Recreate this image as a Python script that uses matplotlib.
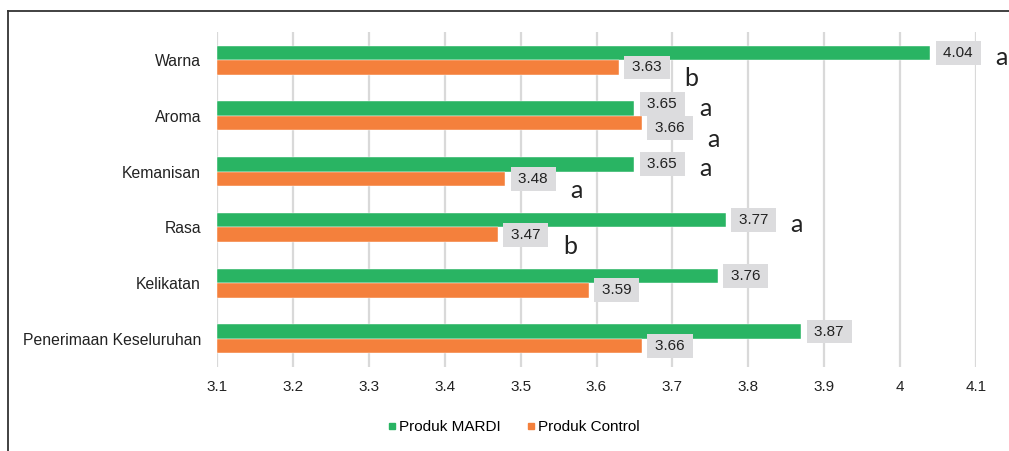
import matplotlib
matplotlib.use("Agg")
import matplotlib.pyplot as plt
from matplotlib.lines import Line2D
import numpy as np

categories = ["Warna", "Aroma", "Kemanisan", "Rasa", "Kelikatan", "Penerimaan Keseluruhan"]
mardi = [4.04, 3.65, 3.65, 3.77, 3.76, 3.87]
control = [3.63, 3.66, 3.48, 3.47, 3.59, 3.66]
mardi_sig = ["a", "a", "a", "a", "", ""]
control_sig = ["b", "a", "a", "b", "", ""]
xticks = [3.1, 3.2, 3.3, 3.4, 3.5, 3.6, 3.7, 3.8, 3.9, 4.0, 4.1]
xticklabels = ["3.1", "3.2", "3.3", "3.4", "3.5", "3.6", "3.7", "3.8", "3.9", "4", "4.1"]

GREEN = "#29B463"
ORANGE = "#F4803C"
BOXC = "#DCDCDE"
TXT = "#222222"
PT = 72 / 100  # points per pixel at dpi 100
SANS = ["Liberation Sans", "DejaVu Sans"]

fig = plt.figure(figsize=(10.09, 4.51), dpi=100)
ax = fig.add_axes([217/1009, 1-366.7/451, (976-217)/1009, (366.7-32.3)/451])

y = np.arange(len(categories))
h = 0.26
ax.barh(y - h/2, [v - 3.1 for v in mardi], left=3.1, height=h, color=GREEN,
        edgecolor="white", linewidth=0.3, zorder=3)
ax.barh(y + h/2, [v - 3.1 for v in control], left=3.1, height=h, color=ORANGE,
        edgecolor="white", linewidth=0.3, zorder=3)

ax.set_xlim(3.1, 4.1)
ax.set_ylim(5.5, -0.5)
ax.set_xticks(xticks)
ax.set_xticklabels(xticklabels, fontsize=11, color=TXT, family=SANS)
ax.set_yticks(y)
ax.set_yticklabels(categories, fontsize=11.3, color=TXT, family=SANS)
ax.tick_params(length=0)
ax.tick_params(axis="y", pad=16 * PT)
ax.tick_params(axis="x", pad=13 * PT)
for s in ax.spines.values():
    s.set_visible(False)
ax.grid(axis="x", color="#d9d9d9", linewidth=1.6, zorder=0)
ax.set_axisbelow(True)

def label(vals, other, sigs, offs, sign, sig_dy):
    for i, (v, o, s) in enumerate(zip(vals, other, sigs)):
        yy = i + offs
        # nudge labels apart when the two boxes of one category would overlap
        dy = sign * 4.5 if abs(v - o) < 0.05 else 0.0
        ax.annotate(f"\u2009{v:.2f}\u2009", xy=(v, yy), xytext=(10 * PT, -dy * PT),
                    textcoords="offset points", ha="left", va="center",
                    fontsize=11, color=TXT, family=SANS, zorder=5,
                    annotation_clip=False,
                    bbox=dict(boxstyle="square,pad=0.32", fc=BOXC, ec="none"))
        if s:
            ax.annotate(s, xy=(v, yy), xytext=(65 * PT, -(sig_dy + dy) * PT),
                        textcoords="offset points", ha="left", va="baseline",
                        fontsize=18, color=TXT, family="Lato", zorder=5,
                        annotation_clip=False)

label(mardi, control, mardi_sig, -h/2, -1, 12)
label(control, mardi, control_sig, h/2, 1, 19)

handles = [Line2D([], [], marker="s", linestyle="none", color=GREEN, markersize=5),
           Line2D([], [], marker="s", linestyle="none", color=ORANGE, markersize=5)]
fig.legend(handles, ["Produk MARDI", "Produk Control"], loc="center",
           bbox_to_anchor=(513/1009, 1-427/451), ncol=2, frameon=False,
           prop=dict(family=SANS, size=11), handletextpad=0.1,
           columnspacing=1.6, handlelength=0.7)

# outer frame
fig.add_artist(Line2D([8/1009, 1.0], [1-11/451, 1-11/451], color="#333333", linewidth=1.3))
fig.add_artist(Line2D([8/1009, 8/1009], [0, 1-11/451], color="#333333", linewidth=1.3))

fig.savefig("out.png", dpi=100)
